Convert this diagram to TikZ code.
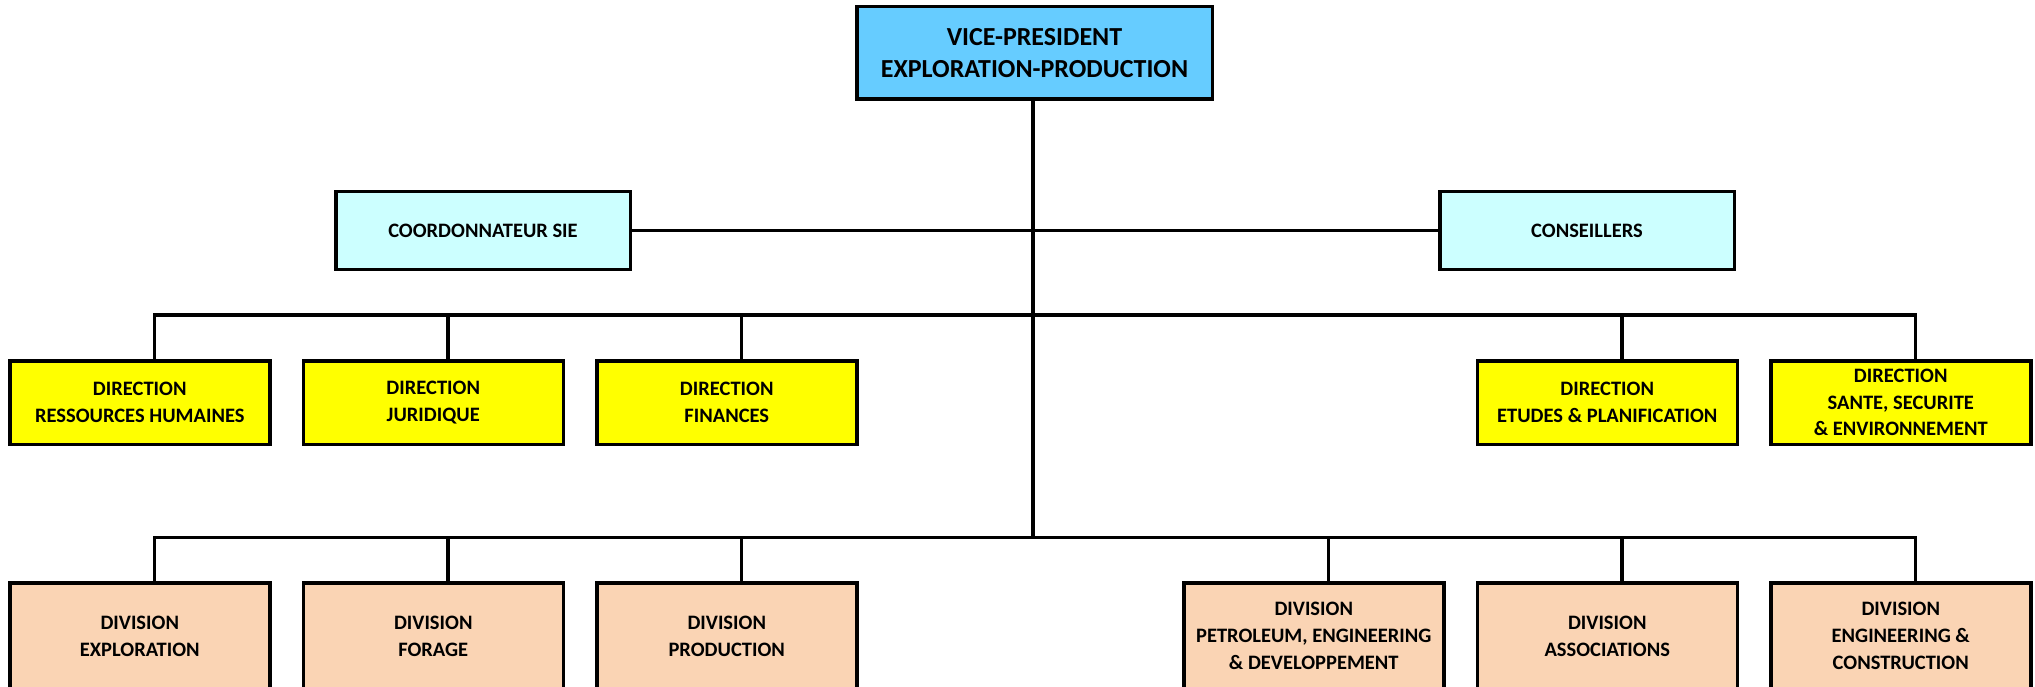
\documentclass[tikz,border=0pt]{standalone}
\usepackage{fontspec}
\setmainfont{Carlito}
\definecolor{vpblue}{RGB}{102,204,255}
\definecolor{staffcyan}{RGB}{204,255,255}
\definecolor{diryellow}{RGB}{255,255,0}
\definecolor{divpeach}{RGB}{250,212,180}
\tikzset{
  orgbox/.style={draw=black, line width=3.5pt, rectangle, inner sep=0pt, outer sep=0pt,
    align=center, text=black, font=\bfseries\fontsize{20.5}{26.8}\selectfont},
  topbox/.style={orgbox, fill=vpblue, minimum width=355.5pt, minimum height=92.5pt,
    font=\bfseries\fontsize{26}{32}\selectfont},
  staffbox/.style={orgbox, fill=staffcyan, minimum width=294.5pt, minimum height=77.5pt},
  dirbox/.style={orgbox, fill=diryellow, minimum width=260pt, minimum height=83.5pt},
  divbox/.style={orgbox, fill=divpeach, minimum width=260pt, minimum height=106.5pt},
  link/.style={draw=black, line width=3.3pt},
}
\begin{document}
\begin{tikzpicture}[x=1pt,y=-1pt]
  % page frame
  \fill[white] (0,0) rectangle (2035,687);
  \useasboundingbox (0,0) rectangle (2035,687);
  \clip (0,0) rectangle (2035,687);

  % junction points on the central trunk
  \coordinate (bus2) at (1033,315);
  \coordinate (bus3) at (1033,537.5);

  % head of the branch
  \node[topbox] (vp) at (1034.5,53) {VICE-PRESIDENT\\EXPLORATION-PRODUCTION};

  % staff positions
  \node[staffbox] (sie) at (483,230.5) {COORDONNATEUR SIE};
  \node[staffbox] (cons) at (1587,230.5) {CONSEILLERS};

  % directions
  \node[dirbox] (rh)  at (139.75,402.5) {DIRECTION\\RESSOURCES HUMAINES};
  \node[dirbox] (jur) at (433.25,402.5) {DIRECTION\\JURIDIQUE};
  \node[dirbox] (fin) at (726.75,402.5) {DIRECTION\\FINANCES};
  \node[dirbox] (etu) at (1607.25,402.5) {DIRECTION\\ETUDES \& PLANIFICATION};
  \node[dirbox] (sse) at (1900.75,402.5) {DIRECTION\\SANTE, SECURITE\\\& ENVIRONNEMENT};

  % divisions
  \node[divbox] (dexp)  at (139.75,636) {DIVISION\\EXPLORATION};
  \node[divbox] (dfor)  at (433.25,636) {DIVISION\\FORAGE};
  \node[divbox] (dprod) at (726.75,636) {DIVISION\\PRODUCTION};
  \node[divbox] (dped)  at (1313.75,636) {DIVISION\\PETROLEUM, ENGINEERING\\\& DEVELOPPEMENT};
  \node[divbox] (dass)  at (1607.25,636) {DIVISION\\ASSOCIATIONS};
  \node[divbox] (dec)   at (1900.75,636) {DIVISION\\ENGINEERING \&\\CONSTRUCTION};

  % trunk and staff link
  \draw[link] (bus2 |- vp.south) -- (bus3);
  \draw[link] (sie.east) -- (cons.west);

  % direction level
  \foreach \n in {rh,jur,fin,etu,sse}
    \draw[link] ([xshift=14.75pt]\n.north) |- (bus2);

  % division level
  \foreach \n in {dexp,dfor,dprod,dped,dass,dec}
    \draw[link] ([xshift=14.75pt]\n.north) |- (bus3);
\end{tikzpicture}
\end{document}
